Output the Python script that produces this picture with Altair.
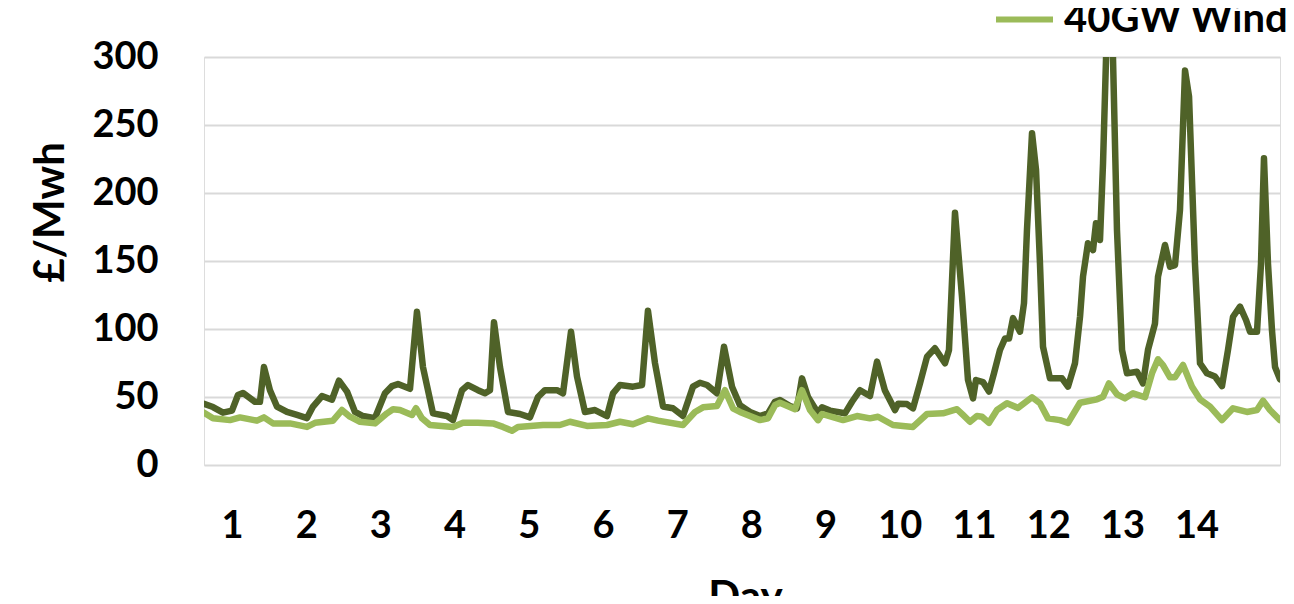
import altair as alt
import pandas as pd

# Dark series (cropped legend entry) – time in days, price in £/MWh
dark_day = [0.623, 0.744, 0.879, 1.000, 1.081, 1.148, 1.310, 1.377, 1.431, 1.512, 1.606, 1.741, 1.876,
            2.011, 2.092, 2.213, 2.348, 2.442, 2.550, 2.658, 2.765, 2.927,
            3.062, 3.156, 3.237, 3.399, 3.493, 3.574, 3.709, 3.898, 3.978,
            4.100, 4.181, 4.315, 4.410, 4.477, 4.531, 4.612, 4.720, 4.881,
            5.016, 5.124, 5.218, 5.380, 5.461, 5.569, 5.650, 5.757, 5.892,
            6.054, 6.135, 6.229, 6.404, 6.526, 6.606, 6.701, 6.809, 6.943,
            7.078, 7.213, 7.307, 7.402, 7.536, 7.631, 7.739, 7.846, 7.981,
            8.116, 8.224, 8.318, 8.385, 8.520, 8.615, 8.682, 8.763, 8.898, 8.951,
            9.059, 9.261, 9.356, 9.464, 9.598, 9.693, 9.798, 9.935, 9.976,
            10.097, 10.178, 10.272, 10.367, 10.474, 10.609, 10.663, 10.744, 10.838, 10.919, 10.987,
            11.027, 11.121, 11.202, 11.270, 11.350, 11.418, 11.472, 11.526, 11.620, 11.674, 11.714,
            11.782, 11.836, 11.889, 11.930,
            12.024, 12.186, 12.267, 12.361, 12.429, 12.469, 12.536, 12.604, 12.644, 12.698, 12.739,
            12.780, 12.826, 12.873, 12.927, 12.995,
            13.062, 13.197, 13.278, 13.345, 13.439, 13.480, 13.574, 13.642, 13.709, 13.776, 13.844,
            13.898, 13.978,
            14.046, 14.140, 14.248, 14.342, 14.423, 14.491, 14.585, 14.666, 14.720, 14.814, 14.868,
            14.908, 14.962, 15.016, 15.057, 15.124]
dark_val = [45, 42.6, 38.5, 40, 51.5, 53, 46.5, 46.5, 72, 55, 43, 39, 36.8,
            34.5, 43, 50.7, 48, 62, 54, 39, 36, 34.5,
            52.7, 58, 59.5, 56, 112.7, 72, 38, 36, 33,
            55, 58.8, 55, 52.7, 55, 105, 72, 39, 37.5,
            35, 50, 55, 55, 52.7, 98, 65, 39, 40.4,
            36, 52.7, 58.8, 57.6, 58.8, 113.5, 74.8, 43, 41.7,
            36, 57.6, 60.5, 58.8, 52.7, 87, 57.6, 44, 39,
            36, 38, 46.5, 47.8, 43.4, 41.7, 63.7, 50, 38, 42.4,
            40, 38, 46.5, 55, 50.7, 76, 55, 40.4, 45,
            44.8, 41.7, 60, 79.6, 85.8, 74.8, 84.6, 185.5, 124, 62.5, 49,
            62.5, 61, 54, 67.6, 84.6, 93, 93, 108, 98, 119, 172.8,
            244, 217, 148.5, 87,
            63.7, 63.7, 57.6, 74.8, 109, 138.5, 163, 158, 177.7, 165.4, 222,
            300, 340, 300, 172.8, 84.6,
            67.4, 68.6, 60, 84.6, 104, 138.5, 161.8, 145.8, 147, 187.5, 290,
            271, 148,
            74.8, 67.4, 65, 58, 84.6, 109, 116.4, 106.6, 98, 98, 148,
            225.5, 148, 99, 72, 63]

# 40GW Wind series
wind_day = [0.623, 0.744, 0.973, 1.108, 1.337, 1.431, 1.553, 1.782,
            2.011, 2.119, 2.361, 2.482, 2.590, 2.725, 2.927,
            3.089, 3.170, 3.264, 3.426, 3.480, 3.561, 3.668, 3.978,
            4.113, 4.315, 4.518, 4.652, 4.774, 4.854,
            5.191, 5.420, 5.555, 5.784,
            6.054, 6.229, 6.404, 6.606, 6.741,
            7.078, 7.240, 7.348, 7.536, 7.644, 7.752, 7.846, 7.981,
            8.116, 8.224, 8.318, 8.385, 8.588, 8.682, 8.790, 8.898, 8.951,
            9.235, 9.423, 9.598, 9.706, 9.908,
            10.178, 10.367, 10.582, 10.771, 10.852, 10.946,
            11.040, 11.108, 11.202, 11.310, 11.445, 11.593, 11.782, 11.889, 11.997,
            12.159, 12.267, 12.429, 12.658, 12.739, 12.819, 12.927,
            13.035, 13.143, 13.305, 13.399, 13.480, 13.547, 13.642, 13.709, 13.817, 13.938,
            14.046, 14.181, 14.342, 14.491, 14.679, 14.814, 14.895, 14.989, 15.124]
wind_val = [38.5, 34.3, 33, 35, 32.6, 35, 30.6, 30.6,
            28, 31, 32.6, 40.4, 35.5, 31.8, 30.6,
            38, 41, 40.4, 36.8, 41.7, 34.3, 29.4, 28,
            31, 31, 30.6, 28, 25.2, 28,
            29.4, 29.4, 31.8, 28.7,
            29.4, 31.8, 30, 34.3, 32.6,
            29.4, 39, 42.4, 43.4, 55, 41.7, 39, 36,
            33, 34.3, 44, 45.8, 41, 55, 40.4, 33, 37.5,
            33, 36, 34.3, 35.5, 29.4,
            28, 37.5, 38, 41, 36.8, 31.8,
            36, 35.5, 31, 40.4, 45.4, 42, 49.8, 45.4, 34.3,
            33, 31, 45.8, 48.3, 50.2, 60, 52,
            49, 52.7, 49.8, 67.4, 77.7, 73.5, 64.5, 64.5, 73.5, 57.6,
            48.3, 43, 33, 41.7, 39, 40.4, 47.3, 40.4, 33]

day_ticks = list(range(1, 15))
y_ticks = [0, 50, 100, 150, 200, 250, 300]

series_names = ["Base", "40GW Wind"]
series_colors = ["#4F6228", "#9BBB59"]

dark_df = pd.DataFrame({"day": dark_day, "price": dark_val, "series": series_names[0]})
wind_df = pd.DataFrame({"day": wind_day, "price": wind_val, "series": series_names[1]})

FONT = "Lato"

x_enc = alt.X(
    "day:Q",
    scale=alt.Scale(domain=[0.623, 15.124], nice=False, zero=False),
    axis=alt.Axis(
        values=day_ticks, title="Day", grid=False, domain=False, ticks=False,
        labelFontSize=38, labelFont=FONT, labelFontWeight="bold", labelColor="#000000",
        labelPadding=42, labelFlush=False, labelOverlap=False,
        titleFontSize=42, titleFont=FONT, titleFontWeight="bold", titleColor="#000000",
        titleX=541, titleY=112, titleBaseline="top", titleAlign="center",
    ),
)
y_enc = alt.Y(
    "price:Q",
    scale=alt.Scale(domain=[0, 300], nice=False),
    axis=alt.Axis(
        values=y_ticks, title="£/Mwh", grid=True, gridColor="#D9D9D9", gridWidth=2,
        domain=False, ticks=False,
        labelFontSize=38, labelFont=FONT, labelFontWeight="bold", labelColor="#000000",
        labelPadding=46,
        titleFontSize=42, titleFont=FONT, titleFontWeight="bold", titleColor="#000000",
        titleX=-154, titleY=155, titleAngle=270, titleAlign="center", titleBaseline="middle",
    ),
)
color_enc = alt.Color(
    "series:N",
    scale=alt.Scale(domain=series_names, range=series_colors),
    legend=alt.Legend(
        values=["40GW Wind"], title=None, orient="none", legendX=789, legendY=-69,
        symbolType="stroke", symbolSize=3249, symbolStrokeWidth=6,
        labelFontSize=40, labelFont=FONT, labelFontWeight="bold", labelColor="#000000",
        labelOffset=8, padding=0, labelLimit=400,
    ),
)

line_style = dict(strokeWidth=6.5, clip=True, strokeJoin="round", strokeCap="round")
dark = alt.Chart(dark_df).mark_line(**line_style).encode(x=x_enc, y=y_enc, color=color_enc)
wind = alt.Chart(wind_df).mark_line(**line_style).encode(x=x_enc, y=y_enc, color=color_enc)

chart = alt.layer(dark, wind).properties(
    width=1076, height=408,
    autosize=alt.AutoSizeParams(type="none"),
    padding={"left": 196, "top": 49, "right": 6, "bottom": 131},
).configure_view(stroke=None).configure(background="white")

chart.save("out.html", embed_options={"renderer": "svg", "actions": False})
